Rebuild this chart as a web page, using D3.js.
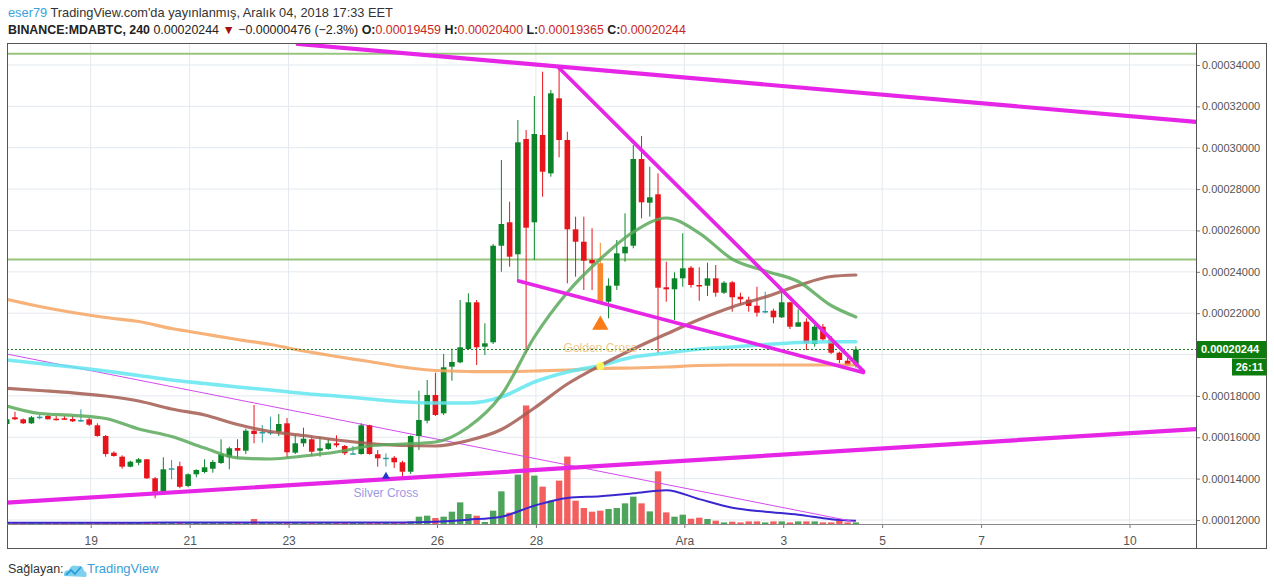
<!DOCTYPE html>
<html><head><meta charset="utf-8">
<script src="https://cdn.jsdelivr.net/npm/d3@7"></script>
<style>
html,body{margin:0;padding:0;background:#fff;}
svg{display:block;font-family:"Liberation Sans",Arial,sans-serif;}
</style>
</head><body>
<svg id="c" width="1274" height="587"></svg>
<script>
// ---------------- DATA (prices in satoshi, 1e-8 BTC) ----------------
const firstCandle = "2018-11-17T07:15:00Z";   // 4h candles, BINANCE:MDABTC
const open  = [16642,16966,16869,16675,16995,17029,16898,16918,16883,16835,16869,16579,16061,15254,15061,14577,14771,14935,14016,13368,
               14500,14601,13644,14210,14321,14480,14756,15032,15481,15351,16318,16255,16255,16269,16675,15254,15708,15902,15351,15433,
               15708,15578,15225,15191,16579,15177,15012,15012,14790,14335,16061,16801,18044,17159,19412,19625,20268,22526,20379,20592,
               25262,26394,24847,30421,26394,30615,28760,32389,30373,26055,25456,24571,24412,22556,23329,24895,25262,29455,27342,27748,
               23251,23155,23686,24199,23362,23329,23686,22990,23493,22797,22652,22361,22105,22120,21800,22526,21346,21588,20510,21346,
               20737,20089,19702,19459];
const high  = [16956,17236,16907,17029,17091,17091,17029,17029,17029,17352,16932,16675,16110,15322,15128,14867,14998,14949,14079,15032,
               14901,14819,14258,14452,14935,14901,15902,15544,15902,16414,17560,16593,16995,17125,16932,16110,16463,16028,16028,15950,
               16095,15626,15578,16675,16608,15385,15225,15094,14867,16095,18252,18769,19122,20026,20282,22637,22961,22637,21511,25345,
               29406,27390,31340,30857,32500,33676,32791,33839,30774,26665,26665,26104,25408,23686,25538,26830,30131,30566,29082,28763,
               24489,23976,25862,24281,24218,24441,24329,23556,23556,22990,22797,23280,23038,22216,23121,22555,22187,21752,21428,21477,
               20896,20137,19833,20400];
const low   = [16569,16835,16642,16642,16869,16860,16811,16835,16738,16738,16545,16028,15061,15061,14480,14548,14645,13982,13049,13330,
               13968,13533,13581,14065,14258,14287,14708,14451,14964,15191,15708,15737,16110,16061,14983,15191,15544,15094,15061,15385,
               15515,15143,15191,15157,15157,14577,14577,14514,14016,14224,15385,16675,17028,17077,18735,19576,20220,19494,19978,20510,
               24005,24247,23522,20060,24571,27632,28599,29537,23445,23764,23121,23121,22478,21752,23121,24489,25137,26587,26665,20060,
               22555,21670,23280,23232,22603,22830,22797,22927,22071,22429,22071,21829,21994,21511,21767,21235,21346,20220,20379,20655,
               20026,19576,19460,19365];
const close = [16869,16869,16675,16966,16995,16869,16835,16869,16772,16835,16608,16061,15191,15094,14577,14819,14935,14016,13368,14452,
               14500,13605,14210,14418,14548,14804,15191,15467,15351,16318,16158,16255,16255,16642,15273,15708,15931,15302,15467,15708,
               15612,15225,15225,16579,15191,14983,15012,14790,14335,16061,16835,18044,17077,19383,19639,20350,22526,20350,20543,25262,
               26312,24731,30262,26133,30663,28841,32631,30373,26055,25456,24537,24412,22556,23329,24895,25214,29455,27361,27603,23232,
               23155,23686,24170,23362,23314,23686,22990,23474,22768,22671,22347,22023,22105,21800,22526,21346,21559,20544,21346,20737,
               20089,19736,19480,20244];
const volume = [1.5,1,1,1,1,1,1,1,1,1.5,1,1.5,2,1,1.5,1,1,1.5,2,2,
                1,1.5,1,1,1,1,1.5,1.5,1,1.5,5,1.5,1,1,1.5,1.5,1,1.5,1,1,
                1,1,1,2,2,1.5,1,1.5,2,2.5,7.3,8.3,6,7.3,12.3,21.6,10,8.3,2,13.3,
                32.6,11.3,49.3,118.3,48.3,37.3,23.3,43.3,67.3,23.3,16,12.3,13.3,15,16,20.6,27.3,20.6,12.6,52.6,
                11.6,7.3,9.3,5.3,6.3,5,3.3,1.6,2.3,1.6,2.6,2.6,1.6,2.6,2.6,1.6,2.6,2.6,2.6,1.6,
                1.6,3.3,1.6,1.6];

// moving averages read at these candle indices
const maIndex   = [0,4,8,12,16,20,24,28,32,36,40,44,48,52,56,60,64,68,72,76,80,84,88,92,96,100,103];
const maGreen   = [17512,17149,17062,16908,16400,16037,15481,15007,14949,15094,15288,15578,15675,15771,16497,18044,20848,23000,24619,25925,26602,25876,24619,24039,23531,22371,21815];
const maBrown   = [18368,18261,18150,17995,17754,17367,17077,16617,16279,16086,15868,15699,15602,15578,15844,16376,17415,18576,19470,20268,20993,21694,22299,22782,23338,23773,23846];
const maCyan    = [19736,19567,19398,19204,18987,18769,18600,18431,18286,18116,17995,17850,17720,17657,17657,17947,18672,19156,19470,19881,20074,20268,20365,20485,20582,20621,20621];
const maOrange  = [22671,22323,22033,21791,21597,21259,20993,20727,20485,20171,19905,19663,19398,19228,19180,19170,19204,19252,19325,19349,19398,19470,19494,19494,19494,19494,19494];
const volMA     = [1.2,1.2,1.2,1.3,1.3,1.4,1.4,1.4,1.6,1.6,1.5,1.4,1.5,2.3,4.3,7.3,18.3,26,27.8,30.6,33.8,24.8,16.3,12.3,9.3,4.8,3.3];

const dateTicks  = ["2018-11-19","2018-11-21","2018-11-23","2018-11-26","2018-11-28","2018-12-01","2018-12-03","2018-12-05","2018-12-07","2018-12-10"];
const dateLabels = ["19","21","23","26","28","Ara","3","5","7","10"];
const priceTicks = [12000,14000,16000,18000,20000,22000,24000,26000,28000,30000,32000,34000];

const levelLines = [34550, 24600];              // horizontal support / resistance
// trend lines: [candleIndex, price] endpoints
const trendThick = [[[35.3,35015],[144.3,31250]], [[0,12836],[144.3,16400]]];
const trendWedge = [[[67,33854],[103.9,19204]], [[62.1,23556],[103.9,19132]]];
const trendThin  = [[0,20026],[102.7,11927]];
const lastPrice = 20244, countdown = "26:11";
const goldenCross = {idx:72, price:21480, dot:19446, label:"Golden Cross"};
const silverCross = {idx:46, price:14103, label:"Silver Cross"};

// ---------------- LAYOUT ----------------
const L=7, R=1196, T=43, B=524, FR=1267, FB=549;
const svg = d3.select("#c");
const STEP = 4*3600e3, t0 = Date.parse(firstCandle);
const x = d3.scaleUtc().domain([new Date("2018-11-19T00:00:00Z"), new Date("2018-12-01T00:00:00Z")]).range([90.7, 684.3]);
const xi = i => x(new Date(t0 + i*STEP));
const y = d3.scaleLinear().domain([12000, 34000]).range([520, 65]);
const yv = d3.scaleLinear().domain([0, d3.max(volume)]).range([B, B-118.5]);

svg.append("defs").append("clipPath").attr("id","plot").append("rect")
  .attr("x",L).attr("y",T).attr("width",R-L).attr("height",B-T);

// grid
const grid = svg.append("g").attr("clip-path","url(#plot)");
grid.selectAll(".hg").data(priceTicks).join("line")
  .attr("x1",L).attr("x2",R).attr("y1",d=>y(d)).attr("y2",d=>y(d))
  .attr("stroke","#e3e9ef").attr("stroke-width",1);
grid.selectAll(".vg").data(dateTicks).join("line")
  .attr("x1",d=>x(new Date(d+"T00:00:00Z"))).attr("x2",d=>x(new Date(d+"T00:00:00Z")))
  .attr("y1",T).attr("y2",B).attr("stroke","#e3e9ef").attr("stroke-width",1);

const plot = svg.append("g").attr("clip-path","url(#plot)");

// level lines
plot.selectAll(".lvl").data(levelLines).join("line")
  .attr("x1",L).attr("x2",R).attr("y1",d=>y(d)).attr("y2",d=>y(d))
  .attr("stroke","#98c47c").attr("stroke-width",2);

// volume
const idx = d3.range(open.length);
plot.selectAll(".vol").data(idx).join("rect")
  .attr("x",i=>xi(i)-3.2).attr("width",6.4)
  .attr("y",i=>yv(volume[i])).attr("height",i=>B-yv(volume[i]))
  .attr("fill",i=>close[i]>=open[i] ? "#4ea45a" : "#f35f5f");

const lineIdx = (arr, scale) => d3.line().x((d,k)=>xi(maIndex[k])).y(d=>scale(d)).curve(d3.curveMonotoneX)(arr);
plot.append("path").attr("d",lineIdx(volMA,yv)).attr("fill","none").attr("stroke","#3b27cf").attr("stroke-width",2);

// thin trend line
plot.append("line").attr("x1",xi(trendThin[0][0])).attr("y1",y(trendThin[0][1]))
  .attr("x2",xi(trendThin[1][0])).attr("y2",y(trendThin[1][1]))
  .attr("stroke","#d24bf0").attr("stroke-width",1);

// candles
const HIGHLIGHT = {72:"#f7892c"};
const cCol = i => HIGHLIGHT[i] || (close[i]===open[i] ? "#2f9d9d" : (close[i]>open[i] ? "#0c852a" : "#e8141b"));
const cg = plot.append("g");
cg.selectAll(".wick").data(idx).join("line")
  .attr("x1",i=>xi(i)).attr("x2",i=>xi(i)).attr("y1",i=>y(high[i])).attr("y2",i=>y(low[i]))
  .attr("stroke",cCol).attr("stroke-width",1);
cg.selectAll(".body").data(idx).join("rect")
  .attr("x",i=>xi(i)-2.8).attr("width",5.6)
  .attr("y",i=>y(Math.max(open[i],close[i])))
  .attr("height",i=>Math.max(1.5, Math.abs(y(open[i])-y(close[i]))))
  .attr("fill",cCol);

// moving averages
const mas = [[maOrange,"#f4a461",3.2],[maCyan,"#62e6f0",3.6],[maBrown,"#a35a50",3.2],[maGreen,"#5aa95a",3.2]];
mas.forEach(([arr,col,w])=>{
  plot.append("path").attr("d",lineIdx(arr,y)).attr("fill","none")
    .attr("stroke",col).attr("stroke-width",w).attr("stroke-opacity",0.85).attr("stroke-linecap","round");
});

// current price dotted line
plot.append("line").attr("x1",L).attr("x2",R).attr("y1",y(lastPrice)).attr("y2",y(lastPrice))
  .attr("stroke","#1f7d1f").attr("stroke-width",1).attr("stroke-dasharray","2,2");

// thick trend lines
[...trendThick.map(s=>[s,4.2]), ...trendWedge.map(s=>[s,3.8])].forEach(([s,w])=>{
  plot.append("line").attr("x1",xi(s[0][0])).attr("y1",y(s[0][1]))
    .attr("x2",xi(s[1][0])).attr("y2",y(s[1][1]))
    .attr("stroke","#e625e6").attr("stroke-width",w).attr("stroke-linecap","round");
});

// signals
plot.append("circle").attr("cx",xi(goldenCross.idx)).attr("cy",y(goldenCross.dot)).attr("r",4)
  .attr("fill","#ffff5a").attr("opacity",0.9);
plot.append("path").attr("d",d3.symbol(d3.symbolTriangle,115)())
  .attr("transform",`translate(${xi(goldenCross.idx)},${y(goldenCross.price)+1})`).attr("fill","#fb7c16");
plot.append("text").attr("x",xi(goldenCross.idx)).attr("y",y(goldenCross.price)+28)
  .attr("text-anchor","middle").attr("font-size",12).attr("fill","#f0c07a").attr("opacity",0.85).text(goldenCross.label);
plot.append("path").attr("d",d3.symbol(d3.symbolTriangle,28)())
  .attr("transform",`translate(${xi(silverCross.idx)},${y(silverCross.price)})`).attr("fill","#2437c9");
plot.append("text").attr("x",xi(silverCross.idx)).attr("y",y(silverCross.price)+20)
  .attr("text-anchor","middle").attr("font-size",12).attr("fill","#9a9ae2").text(silverCross.label);

// ---------------- AXES ----------------
const yl = y(lastPrice);
const ya = svg.append("g").attr("transform",`translate(${R},0)`)
  .call(d3.axisRight(y).tickValues(priceTicks).tickSize(4).tickPadding(2).tickFormat(d=>(d/1e8).toFixed(8)));
ya.select(".domain").remove();
ya.selectAll("line").attr("stroke","#777");
ya.selectAll("text").attr("font-size",11).attr("fill","#555").attr("font-family","Liberation Sans, Arial, sans-serif");
// labels hidden behind the last-price box
ya.selectAll(".tick").filter(d=>Math.abs(y(d)-yl)<26).select("text").remove();

const xa = svg.append("g").attr("transform",`translate(0,${B})`)
  .call(d3.axisBottom(x).tickValues(dateTicks.map(d=>new Date(d+"T00:00:00Z"))).tickSize(4).tickPadding(8)
    .tickFormat((d,k)=>dateLabels[k]));
xa.select(".domain").remove();
xa.selectAll("line").attr("stroke","#777");
xa.selectAll("text").attr("font-size",12).attr("fill","#555").attr("font-family","Liberation Sans, Arial, sans-serif");

// frame
svg.append("rect").attr("x",L+0.5).attr("y",T+0.5).attr("width",FR-L-1).attr("height",FB-T-1)
  .attr("fill","none").attr("stroke","#555");
svg.append("line").attr("x1",R+0.5).attr("x2",R+0.5).attr("y1",T).attr("y2",FB).attr("stroke","#555");
svg.append("line").attr("x1",L).attr("x2",R).attr("y1",B+0.5).attr("y2",B+0.5).attr("stroke","#888");

// last price label
svg.append("rect").attr("x",R+1).attr("y",yl-8.5).attr("width",FR-R-1.5).attr("height",17).attr("fill","#0c7d0c");
svg.append("text").attr("x",R+5).attr("y",yl+4).attr("font-size",11).attr("font-weight","bold").attr("fill","#fff")
  .text((lastPrice/1e8).toFixed(8));
svg.append("rect").attr("x",1232).attr("y",yl+9).attr("width",FR-1232-0.5).attr("height",17).attr("fill","#0c7d0c");
svg.append("text").attr("x",1249.5).attr("y",yl+21.5).attr("text-anchor","middle").attr("font-size",11)
  .attr("font-weight","bold").attr("fill","#fff").text(countdown);

// ---------------- HEADER / FOOTER ----------------
function fit(sel, target){
  const n = sel.node(); const w = n.getComputedTextLength();
  const fs = parseFloat(sel.attr("font-size"));
  sel.attr("font-size", (fs*target/w).toFixed(2));
}
const h1 = svg.append("text").attr("x",8).attr("y",17).attr("font-size",13).attr("fill","#333");
h1.append("tspan").attr("fill","#3aa3dc").text("eser79");
h1.append("tspan").text(" TradingView.com'da yayınlanmış, Aralık 04, 2018 17:33 EET");
fit(h1, 385);

const h2 = svg.append("text").attr("x",8).attr("y",34).attr("font-size",13).attr("fill","#222");
h2.append("tspan").attr("font-weight","bold").text("BINANCE:MDABTC, 240");
h2.append("tspan").text(" 0.00020244 ");
h2.append("tspan").attr("fill","#a31010").text("▼");
h2.append("tspan").text(" −0.00000476 (−2.3%) ");
[["O:","0.00019459"],["H:","0.00020400"],["L:","0.00019365"],["C:","0.00020244"]].forEach(([k,v],j)=>{
  h2.append("tspan").attr("font-weight","bold").text((j?" ":"")+k);
  h2.append("tspan").attr("fill","#c62828").text(v);
});
fit(h2, 678);

svg.append("text").attr("x",8).attr("y",573).attr("font-size",12.5).attr("fill","#333").text("Sağlayan:");
const lg = svg.append("g").attr("transform","translate(63,562)");
lg.append("path").attr("d","M1,14 Q0,8 6,8 Q8,2 14,4 Q20,3 21,9 Q25,10 23,15 Z").attr("fill","#7fd0ef");
lg.append("path").attr("d","M3,13 L8,8 L12,12 L18,5").attr("fill","none").attr("stroke","#2a9fd8").attr("stroke-width",1.8);
svg.append("text").attr("x",87).attr("y",573).attr("font-size",13).attr("fill","#3aa0d8").text("TradingView");
</script>
</body></html>
